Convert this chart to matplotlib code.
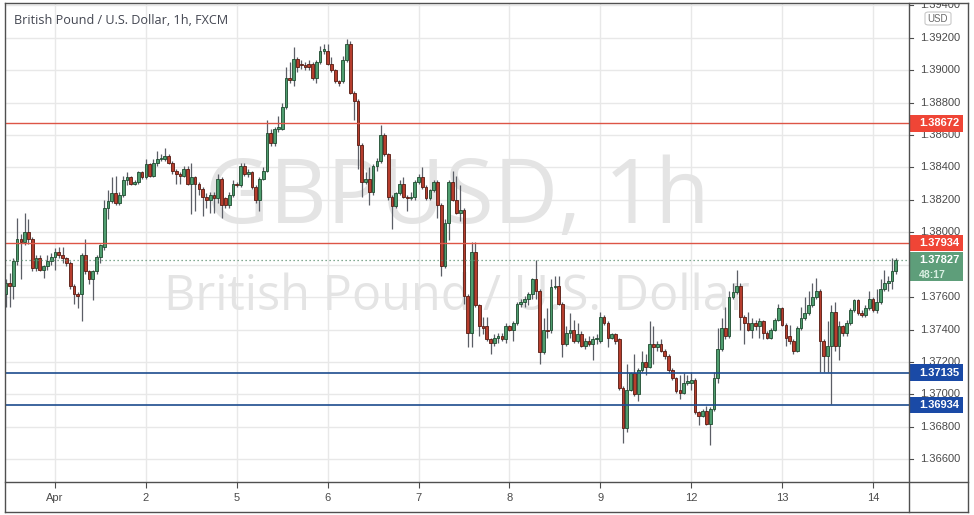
import matplotlib
matplotlib.use("Agg")
import matplotlib.pyplot as plt
import numpy as np
from matplotlib.patches import Rectangle, FancyBboxPatch
from matplotlib.lines import Line2D

# ---------------- data (hourly GBP/USD candles) ----------------
opens = [1.3762, 1.3769, 1.3767, 1.3782, 1.3796, 1.3794, 1.3800, 1.3796, 1.3778, 1.3784,
         1.3777, 1.3779, 1.3782, 1.3785, 1.3788, 1.3786, 1.3784, 1.3781, 1.3767, 1.3762,
         1.3762, 1.3786, 1.3776, 1.3771, 1.3776, 1.3785, 1.3791, 1.3815, 1.3819, 1.3824,
         1.3818, 1.3823, 1.3832, 1.3834, 1.3830, 1.3831, 1.3837, 1.3834, 1.3842, 1.3835,
         1.3843, 1.3845, 1.3845, 1.3847, 1.3843, 1.3838, 1.3836, 1.3835, 1.3839, 1.3830,
         1.3834, 1.3830, 1.3827, 1.3822, 1.3820, 1.3823, 1.3821, 1.3833, 1.3821, 1.3817,
         1.3823, 1.3830, 1.3829, 1.3841, 1.3836, 1.3837, 1.3828, 1.3820, 1.3833, 1.3838,
         1.3861, 1.3855, 1.3864, 1.3864, 1.3877, 1.3895, 1.3894, 1.3907, 1.3904, 1.3903,
         1.3904, 1.3904, 1.3895, 1.3905, 1.3912, 1.3912, 1.3904, 1.3900, 1.3893, 1.3893,
         1.3906, 1.3916, 1.3886, 1.3881, 1.3854, 1.3831, 1.3833, 1.3825, 1.3841, 1.3844,
         1.3860, 1.3848, 1.3822, 1.3816, 1.3824, 1.3830, 1.3822, 1.3821, 1.3822, 1.3831,
         1.3834, 1.3828, 1.3821, 1.3826, 1.3831, 1.3817, 1.3779, 1.3806, 1.3831, 1.3820,
         1.3812, 1.3814, 1.3761, 1.3738, 1.3788, 1.3755, 1.3742, 1.3742, 1.3734, 1.3732,
         1.3735, 1.3736, 1.3734, 1.3742, 1.3740, 1.3744, 1.3756, 1.3757, 1.3759, 1.3762,
         1.3771, 1.3764, 1.3726, 1.3740, 1.3740, 1.3766, 1.3767, 1.3756, 1.3731, 1.3738,
         1.3740, 1.3733, 1.3737, 1.3730, 1.3733, 1.3731, 1.3734, 1.3733, 1.3748, 1.3744,
         1.3735, 1.3737, 1.3734, 1.3704, 1.3679, 1.3703, 1.3713, 1.3700, 1.3715, 1.3720,
         1.3717, 1.3731, 1.3729, 1.3731, 1.3727, 1.3724, 1.3715, 1.3710, 1.3703, 1.3701,
         1.3707, 1.3707, 1.3709, 1.3689, 1.3687, 1.3690, 1.3682, 1.3691, 1.3710, 1.3728,
         1.3741, 1.3736, 1.3760, 1.3763, 1.3767, 1.3748, 1.3744, 1.3740, 1.3744, 1.3742,
         1.3745, 1.3738, 1.3735, 1.3740, 1.3746, 1.3753, 1.3743, 1.3736, 1.3733, 1.3727,
         1.3741, 1.3747, 1.3750, 1.3755, 1.3760, 1.3764, 1.3733, 1.3724, 1.3730, 1.3751,
         1.3730, 1.3742, 1.3738, 1.3744, 1.3752, 1.3758, 1.3750, 1.3749, 1.3753, 1.3759,
         1.3752, 1.3757, 1.3765, 1.3769, 1.3770, 1.3776]
highs = [1.3771, 1.3775, 1.3784, 1.3809, 1.3799, 1.3812, 1.3808, 1.3797, 1.3786, 1.3786,
         1.3780, 1.3786, 1.3787, 1.3790, 1.3791, 1.3791, 1.3785, 1.3782, 1.3768, 1.3763,
         1.3787, 1.3796, 1.3777, 1.3777, 1.3786, 1.3793, 1.3820, 1.3826, 1.3834, 1.3835,
         1.3825, 1.3835, 1.3837, 1.3835, 1.3832, 1.3838, 1.3838, 1.3845, 1.3843, 1.3845,
         1.3850, 1.3848, 1.3852, 1.3848, 1.3844, 1.3839, 1.3837, 1.3841, 1.3841, 1.3843,
         1.3835, 1.3831, 1.3828, 1.3824, 1.3825, 1.3825, 1.3836, 1.3834, 1.3822, 1.3825,
         1.3832, 1.3831, 1.3843, 1.3843, 1.3839, 1.3838, 1.3829, 1.3834, 1.3840, 1.3869,
         1.3864, 1.3865, 1.3872, 1.3880, 1.3902, 1.3905, 1.3914, 1.3908, 1.3906, 1.3905,
         1.3906, 1.3905, 1.3906, 1.3915, 1.3916, 1.3916, 1.3908, 1.3901, 1.3894, 1.3909,
         1.3919, 1.3918, 1.3887, 1.3882, 1.3855, 1.3837, 1.3840, 1.3842, 1.3846, 1.3866,
         1.3861, 1.3849, 1.3823, 1.3825, 1.3832, 1.3834, 1.3823, 1.3825, 1.3832, 1.3836,
         1.3840, 1.3829, 1.3827, 1.3832, 1.3832, 1.3818, 1.3808, 1.3832, 1.3838, 1.3835,
         1.3829, 1.3815, 1.3762, 1.3794, 1.3794, 1.3756, 1.3748, 1.3748, 1.3735, 1.3737,
         1.3738, 1.3738, 1.3744, 1.3743, 1.3745, 1.3757, 1.3759, 1.3761, 1.3763, 1.3772,
         1.3783, 1.3765, 1.3747, 1.3753, 1.3771, 1.3773, 1.3773, 1.3757, 1.3742, 1.3750,
         1.3746, 1.3744, 1.3739, 1.3735, 1.3736, 1.3736, 1.3737, 1.3751, 1.3749, 1.3745,
         1.3738, 1.3738, 1.3735, 1.3705, 1.3719, 1.3714, 1.3725, 1.3716, 1.3727, 1.3725,
         1.3745, 1.3742, 1.3733, 1.3734, 1.3728, 1.3725, 1.3716, 1.3711, 1.3712, 1.3713,
         1.3712, 1.3714, 1.3710, 1.3690, 1.3691, 1.3693, 1.3692, 1.3714, 1.3741, 1.3747,
         1.3754, 1.3764, 1.3769, 1.3777, 1.3769, 1.3749, 1.3751, 1.3747, 1.3746, 1.3747,
         1.3746, 1.3739, 1.3741, 1.3747, 1.3756, 1.3754, 1.3744, 1.3743, 1.3734, 1.3742,
         1.3754, 1.3760, 1.3764, 1.3769, 1.3772, 1.3765, 1.3734, 1.3745, 1.3755, 1.3757,
         1.3745, 1.3743, 1.3746, 1.3753, 1.3759, 1.3759, 1.3752, 1.3755, 1.3764, 1.3760,
         1.3765, 1.3771, 1.3777, 1.3773, 1.3784, 1.3784]
lows = [1.3754, 1.3754, 1.3759, 1.3780, 1.3771, 1.3792, 1.3793, 1.3776, 1.3776, 1.3776,
        1.3772, 1.3777, 1.3780, 1.3777, 1.3784, 1.3781, 1.3779, 1.3765, 1.3756, 1.3753,
        1.3745, 1.3774, 1.3768, 1.3758, 1.3774, 1.3781, 1.3789, 1.3808, 1.3818, 1.3817,
        1.3817, 1.3822, 1.3829, 1.3829, 1.3829, 1.3830, 1.3833, 1.3833, 1.3834, 1.3834,
        1.3841, 1.3844, 1.3844, 1.3842, 1.3836, 1.3830, 1.3830, 1.3834, 1.3829, 1.3811,
        1.3813, 1.3823, 1.3810, 1.3815, 1.3812, 1.3812, 1.3818, 1.3809, 1.3815, 1.3815,
        1.3822, 1.3828, 1.3828, 1.3835, 1.3834, 1.3827, 1.3818, 1.3813, 1.3832, 1.3837,
        1.3853, 1.3853, 1.3862, 1.3863, 1.3876, 1.3892, 1.3890, 1.3899, 1.3901, 1.3900,
        1.3900, 1.3894, 1.3892, 1.3904, 1.3910, 1.3903, 1.3899, 1.3892, 1.3890, 1.3892,
        1.3905, 1.3885, 1.3869, 1.3839, 1.3822, 1.3830, 1.3817, 1.3823, 1.3838, 1.3843,
        1.3847, 1.3820, 1.3802, 1.3815, 1.3823, 1.3821, 1.3813, 1.3820, 1.3820, 1.3830,
        1.3827, 1.3820, 1.3820, 1.3825, 1.3809, 1.3773, 1.3778, 1.3795, 1.3819, 1.3811,
        1.3807, 1.3756, 1.3729, 1.3729, 1.3754, 1.3736, 1.3737, 1.3733, 1.3725, 1.3730,
        1.3732, 1.3733, 1.3732, 1.3739, 1.3733, 1.3743, 1.3754, 1.3754, 1.3755, 1.3759,
        1.3759, 1.3719, 1.3725, 1.3735, 1.3738, 1.3765, 1.3755, 1.3723, 1.3730, 1.3735,
        1.3732, 1.3732, 1.3729, 1.3728, 1.3730, 1.3721, 1.3731, 1.3732, 1.3743, 1.3729,
        1.3734, 1.3731, 1.3703, 1.3670, 1.3677, 1.3702, 1.3699, 1.3696, 1.3714, 1.3712,
        1.3716, 1.3719, 1.3727, 1.3726, 1.3722, 1.3713, 1.3709, 1.3701, 1.3697, 1.3700,
        1.3706, 1.3703, 1.3688, 1.3681, 1.3686, 1.3681, 1.3669, 1.3690, 1.3707, 1.3727,
        1.3734, 1.3735, 1.3759, 1.3762, 1.3740, 1.3731, 1.3739, 1.3735, 1.3740, 1.3735,
        1.3734, 1.3734, 1.3734, 1.3739, 1.3745, 1.3742, 1.3730, 1.3731, 1.3725, 1.3726,
        1.3740, 1.3746, 1.3749, 1.3754, 1.3759, 1.3714, 1.3714, 1.3714, 1.3694, 1.3727,
        1.3721, 1.3736, 1.3736, 1.3743, 1.3751, 1.3749, 1.3748, 1.3748, 1.3752, 1.3751,
        1.3750, 1.3756, 1.3764, 1.3764, 1.3765, 1.3774]
closes = [1.3769, 1.3767, 1.3782, 1.3796, 1.3794, 1.3800, 1.3796, 1.3778, 1.3784, 1.3777,
          1.3779, 1.3782, 1.3785, 1.3788, 1.3786, 1.3784, 1.3781, 1.3767, 1.3762, 1.3761,
          1.3786, 1.3776, 1.3771, 1.3776, 1.3785, 1.3792, 1.3815, 1.3819, 1.3824, 1.3818,
          1.3823, 1.3832, 1.3834, 1.3830, 1.3831, 1.3837, 1.3834, 1.3842, 1.3835, 1.3843,
          1.3845, 1.3846, 1.3847, 1.3843, 1.3838, 1.3836, 1.3835, 1.3839, 1.3830, 1.3834,
          1.3830, 1.3827, 1.3822, 1.3820, 1.3823, 1.3821, 1.3833, 1.3817, 1.3817, 1.3823,
          1.3830, 1.3829, 1.3841, 1.3836, 1.3837, 1.3828, 1.3820, 1.3833, 1.3838, 1.3861,
          1.3855, 1.3864, 1.3865, 1.3877, 1.3895, 1.3894, 1.3907, 1.3902, 1.3903, 1.3902,
          1.3902, 1.3895, 1.3905, 1.3912, 1.3913, 1.3904, 1.3900, 1.3893, 1.3892, 1.3906,
          1.3916, 1.3886, 1.3881, 1.3854, 1.3831, 1.3833, 1.3825, 1.3841, 1.3844, 1.3860,
          1.3848, 1.3822, 1.3816, 1.3824, 1.3830, 1.3822, 1.3821, 1.3822, 1.3831, 1.3834,
          1.3828, 1.3821, 1.3826, 1.3831, 1.3817, 1.3779, 1.3806, 1.3831, 1.3820, 1.3812,
          1.3814, 1.3761, 1.3738, 1.3788, 1.3755, 1.3742, 1.3741, 1.3734, 1.3732, 1.3735,
          1.3736, 1.3734, 1.3742, 1.3740, 1.3744, 1.3756, 1.3757, 1.3759, 1.3762, 1.3771,
          1.3764, 1.3726, 1.3740, 1.3739, 1.3766, 1.3767, 1.3756, 1.3731, 1.3738, 1.3740,
          1.3733, 1.3737, 1.3730, 1.3733, 1.3731, 1.3734, 1.3735, 1.3748, 1.3744, 1.3735,
          1.3737, 1.3733, 1.3704, 1.3679, 1.3703, 1.3713, 1.3700, 1.3715, 1.3720, 1.3717,
          1.3731, 1.3729, 1.3731, 1.3727, 1.3724, 1.3715, 1.3710, 1.3702, 1.3701, 1.3707,
          1.3708, 1.3709, 1.3689, 1.3687, 1.3690, 1.3682, 1.3691, 1.3710, 1.3728, 1.3741,
          1.3736, 1.3760, 1.3763, 1.3767, 1.3748, 1.3744, 1.3740, 1.3744, 1.3742, 1.3745,
          1.3738, 1.3735, 1.3740, 1.3746, 1.3753, 1.3743, 1.3735, 1.3733, 1.3727, 1.3741,
          1.3747, 1.3750, 1.3755, 1.3760, 1.3764, 1.3733, 1.3724, 1.3730, 1.3751, 1.3730,
          1.3742, 1.3738, 1.3744, 1.3752, 1.3758, 1.3750, 1.3749, 1.3753, 1.3759, 1.3752,
          1.3757, 1.3765, 1.3769, 1.3770, 1.3776, 1.3783]

day_positions = [13, 37, 61, 85, 109, 133, 157, 181, 205, 229]
day_labels = ["Apr", "2", "5", "6", "7", "8", "9", "12", "13", "14"]
price_ticks = [1.366, 1.368, 1.370, 1.372, 1.374, 1.376, 1.378, 1.380, 1.382,
               1.384, 1.386, 1.388, 1.390, 1.392, 1.394]
resistance_levels = [1.38672, 1.37934]
support_levels = [1.37135, 1.36934]
last_price = 1.37827
countdown = "48:17"
title = "British Pound / U.S. Dollar, 1h, FXCM"
watermark_big = "GBPUSD, 1h"
watermark_small = "British Pound / U.S. Dollar"

# ---------------- layout (pixels) ----------------
W, H = 974, 515
L, R, T, B = 5, 909, 3, 482      # chart pane
PR, BB = 968, 512                # outer right / bottom edges
YMIN, YMAX = 1.36460, 1.39414
XMIN, XMAX = -0.2, 238.5
PPU = (B - T) / (YMAX - YMIN)    # pixels per price unit

def fx(px):
    return px / W

def fy(py):
    return 1 - py / H

fig = plt.figure(figsize=(W / 100, H / 100), dpi=100)
fig.patch.set_facecolor("white")

ax = fig.add_axes([fx(L), fy(B), (R - L) / W, (B - T) / H])
ax.set_xlim(XMIN, XMAX)
ax.set_ylim(YMIN, YMAX)
for s in ax.spines.values():
    s.set_visible(False)

ax.set_yticks(price_ticks)
ax.set_xticks(day_positions)
ax.set_xticklabels(day_labels, fontsize=8, color="#4a4a4a", family=["Liberation Sans", "DejaVu Sans"])
ax.tick_params(axis="y", left=False, labelleft=False)
ax.tick_params(axis="x", direction="out", length=4, width=0.8, color="#4d4d4d", pad=4)
ax.grid(True, color="#e8e8e8", lw=1.0, zorder=0)
ax.set_axisbelow(True)

# watermark
ax.text(0.5, (B - 200) / (B - T), watermark_big, transform=ax.transAxes, ha="center", va="center",
        fontsize=64, color="#e4e4e4", family=["Open Sans", "DejaVu Sans"], zorder=1)
ax.text(0.5, (B - 297) / (B - T), watermark_small, transform=ax.transAxes, ha="center", va="center",
        fontsize=35, color="#e4e4e4", family=["Open Sans", "DejaVu Sans"], zorder=1)

# title
ax.text((14 - L) / (R - L), (B - 20) / (B - T), title, transform=ax.transAxes, ha="left", va="center",
        fontsize=9.1, color="#434651", family=["Open Sans", "DejaVu Sans"], zorder=6)

# candles
o = np.array(opens); h = np.array(highs); l = np.array(lows); c = np.array(closes)
x = np.arange(len(o))
up = c >= o
ax.vlines(x, l, h, color="#5b5e66", lw=0.9, zorder=2)
bottom = np.minimum(o, c)
height = np.maximum(np.abs(c - o), 0.00005)
ax.bar(x[up], height[up], bottom=bottom[up], width=0.72, color="#4f9d6f",
       edgecolor="#1d4a2e", linewidth=0.6, zorder=3)
ax.bar(x[~up], height[~up], bottom=bottom[~up], width=0.72, color="#b63d2d",
       edgecolor="#561a11", linewidth=0.6, zorder=3)

# horizontal levels
for lv in resistance_levels:
    ax.axhline(lv, color="#dd5546", lw=1.0, zorder=4)
for lv in support_levels:
    ax.axhline(lv, color="#1c4c8e", lw=1.2, zorder=4)
ax.axhline(last_price, color="#5a8f70", lw=0.9, ls=(0, (1, 2.2)), zorder=4)

# price scale pane
pax = fig.add_axes([fx(R), fy(B), (PR - R) / W, (B - T) / H])
pax.set_xlim(0, PR - R)
pax.set_ylim(YMIN, YMAX)
pax.set_xticks([]); pax.set_yticks([])
for s in pax.spines.values():
    s.set_visible(False)

hh = 8.3 / PPU
top_p = last_price + 8.3 / PPU
bot_p = last_price - 21 / PPU
for p in price_ticks:
    pax.plot([0, 4], [p, p], color="#4d4d4d", lw=0.8, clip_on=True, zorder=2)
    # labels fully covered by the current-price box are not visible in the reference
    if bot_p + hh * 0.6 < p < top_p - hh * 0.6:
        continue
    pax.text(11, p, f"{p:.5f}", ha="left", va="center", fontsize=8, color="#4a4a4a",
             family=["Liberation Sans", "DejaVu Sans"], clip_on=True, zorder=2)

def price_box(level, color, text):
    pax.add_patch(Rectangle((0, level - hh), 54, 2 * hh, facecolor=color, edgecolor="none", zorder=5))
    pax.text(10, level, text, ha="left", va="center", fontsize=8, color="white", fontweight="bold",
             family=["Liberation Sans", "DejaVu Sans"], zorder=6)

for lv in resistance_levels:
    price_box(lv, "#ef4536", f"{lv:.5f}")
for lv in support_levels:
    price_box(lv, "#1a4aa6", f"{lv:.5f}")

# current price box (two lines)
pax.add_patch(Rectangle((0, bot_p), 54, top_p - bot_p, facecolor="#5e9e7a", edgecolor="none", zorder=5))
pax.text(10, last_price, f"{last_price:.5f}", ha="left", va="center", fontsize=8, color="white",
         fontweight="bold", family=["Liberation Sans", "DejaVu Sans"], zorder=6)
pax.text(10, last_price - 14.5 / PPU, countdown, ha="left", va="center", fontsize=7.6, color="#d9efe2",
         fontweight="bold", family=["Liberation Sans", "DejaVu Sans"], zorder=6)

# USD badge
fig.add_artist(FancyBboxPatch((fx(925), fy(25)), (951 - 925) / W, 13 / H,
                              boxstyle="round,pad=0,rounding_size=0.004",
                              transform=fig.transFigure, facecolor="white",
                              edgecolor="#c9c9c9", lw=0.8, zorder=7))
fig.text(fx(938), fy(18.5), "USD", ha="center", va="center", fontsize=7, color="#6a6a6a",
         family=["Liberation Sans", "DejaVu Sans"], zorder=8)

# frame lines
frame_col = "#505050"
segs = [((L, T), (PR, T)), ((L, T), (L, BB)), ((L, BB), (PR, BB)), ((PR, T), (PR, BB)),
        ((R, T), (R, BB)), ((L, B), (PR, B))]
for (x0, y0), (x1, y1) in segs:
    fig.add_artist(Line2D([fx(x0), fx(x1)], [fy(y0), fy(y1)], transform=fig.transFigure,
                          color=frame_col, lw=1.0, zorder=9))

fig.savefig("out.png", dpi=100)
